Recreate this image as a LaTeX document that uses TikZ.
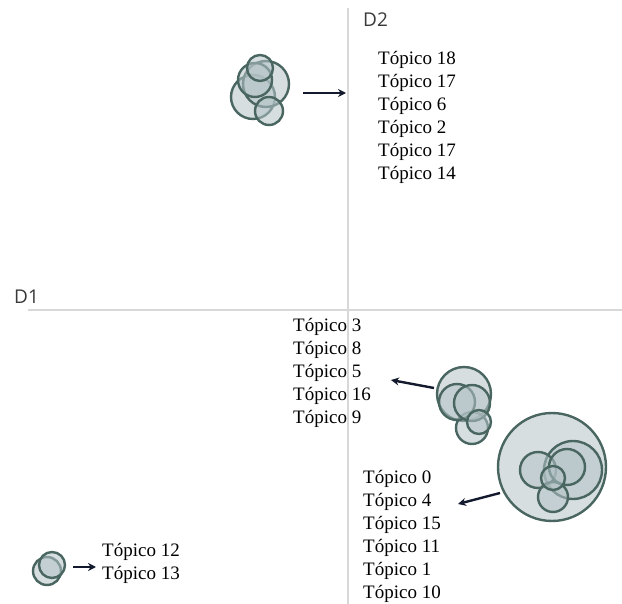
\documentclass[tikz,border=0pt]{standalone}
\usepackage{fontspec}
\setmainfont{Liberation Serif}
\newfontfamily\axfont{Open Sans}
\usetikzlibrary{arrows.meta}
\definecolor{axisgray}{HTML}{D8D8D8}
\definecolor{bubfill}{HTML}{B4C3C7}
\definecolor{bubline}{HTML}{4A6661}
\definecolor{arrowc}{HTML}{141A2E}
\definecolor{labgray}{HTML}{3A3A3A}
\tikzset{
  axis/.style={draw=axisgray, line width=1.8pt},
  bub/.style={draw=bubline, fill=bubfill, fill opacity=0.55, line width=2.4pt},
  topics/.style={anchor=north west, inner sep=0pt, align=left, font=\fontsize{19}{23}\selectfont},
  axlab/.style={anchor=base west, inner sep=0pt, text=labgray, font=\axfont\fontsize{19}{22}\selectfont},
  pointer/.style={draw=arrowc, line width=2.4pt, -{Stealth[length=8pt,width=8pt]}}
}
\begin{document}
\begin{tikzpicture}[x=1pt,y=-1pt]
\useasboundingbox (0,0) rectangle (622,604);
% axes
\coordinate (vtop) at (348,8);
\coordinate (vbot) at (348,604);
\coordinate (hl) at (28,310);
\coordinate (hr) at (622,310);
\draw[axis] (vtop) -- (vbot);
\draw[axis] (hl) -- (hr);
\node[axlab] (d2) at (363,27) {D2};
\node[axlab] (d1) at (14,304) {D1};

% cluster top
\draw[bub] (253,97) circle (22);
\draw[bub] (266,84) circle (23);
\draw[bub] (255,80) circle (17);
\draw[bub] (260,68) circle (13);
\draw[bub] (269,111) circle (14);

% cluster middle right
\draw[bub] (464,394) circle (27);
\draw[bub] (472,428) circle (16);
\draw[bub] (457,402) circle (18);
\draw[bub] (472,403) circle (18);
\draw[bub] (479,422) circle (12);

% big cluster
\draw[bub] (552,467) circle (54);
\draw[bub] (573,470) circle (29);
\draw[bub] (538,470) circle (18);
\draw[bub] (567,467) circle (18);
\draw[bub] (553,497) circle (15);
\draw[bub] (553,478) circle (12);

% small cluster bottom left
\draw[bub] (47,571) circle (14);
\draw[bub] (52,565) circle (13);

% topic lists
\node[topics] (t1) at (378,51) {Tópico 18\\Tópico 17\\Tópico 6\\Tópico 2\\Tópico 17\\Tópico 14};
\node[topics] (t2) at (293,318) {Tópico 3\\Tópico 8\\Tópico 5\\Tópico 16\\Tópico 9};
\node[topics] (t3) at (363,470) {Tópico 0\\Tópico 4\\Tópico 15\\Tópico 11\\Tópico 1\\Tópico 10};
\node[topics] (t4) at (102,543) {Tópico 12\\Tópico 13};

% arrows
\coordinate (a1s) at (303,93);
\coordinate (a1e) at (346,93);
\coordinate (a2s) at (434,388);
\coordinate (a2e) at (391,380);
\coordinate (a3s) at (500,493);
\coordinate (a3e) at (458,504);
\coordinate (a4s) at (73,567);
\coordinate (a4e) at (96,567);
\draw[pointer] (a1s) -- (a1e);
\draw[pointer] (a2s) -- (a2e);
\draw[pointer] (a3s) -- (a3e);
\draw[pointer] (a4s) -- (a4e);
\end{tikzpicture}
\end{document}
